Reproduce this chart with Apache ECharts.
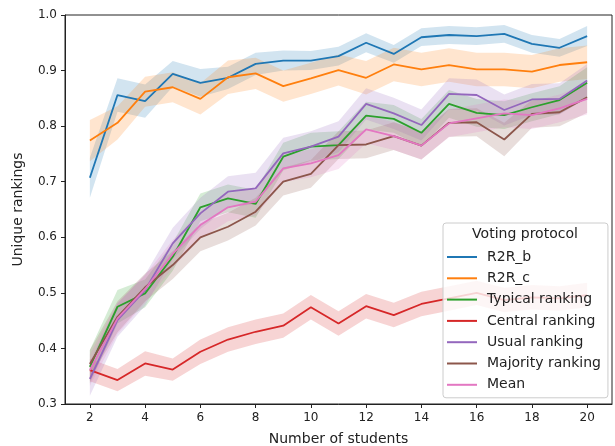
<!DOCTYPE html>
<html lang="en">
<head>
    <meta charset="UTF-8">
    <title>Unique rankings</title>
    <script src="https://cdn.jsdelivr.net/npm/echarts@6/dist/echarts.min.js"></script>
</head>
<body style="margin:0">
    <div id="main" style="width: 615px; height: 446px;"></div>
    <script>
        // number of students (x)
        const students = [2, 3, 4, 5, 6, 7, 8, 9, 10, 11, 12, 13, 14, 15, 16, 17, 18, 19, 20];
        const xTicks = [2, 4, 6, 8, 10, 12, 14, 16, 18, 20];

        const protocols = ['R2R_b', 'R2R_c', 'Typical ranking', 'Central ranking', 'Usual ranking', 'Majority ranking', 'Mean'];
        const colors = ['#1f77b4', '#ff7f0e', '#2ca02c', '#d62728', '#9467bd', '#8c564b', '#e377c2'];

        // mean values
        const r2rB     = [0.707, 0.856, 0.845, 0.894, 0.878, 0.887, 0.912, 0.918, 0.918, 0.926, 0.950, 0.930, 0.960, 0.964, 0.962, 0.966, 0.948, 0.941, 0.962];
        const r2rC     = [0.774, 0.806, 0.862, 0.870, 0.849, 0.888, 0.895, 0.872, 0.886, 0.901, 0.887, 0.911, 0.902, 0.910, 0.902, 0.902, 0.898, 0.910, 0.915];
        const typical  = [0.367, 0.475, 0.499, 0.565, 0.654, 0.670, 0.660, 0.745, 0.763, 0.766, 0.819, 0.813, 0.788, 0.840, 0.824, 0.820, 0.834, 0.847, 0.878];
        const central  = [0.361, 0.343, 0.373, 0.362, 0.394, 0.416, 0.430, 0.441, 0.474, 0.445, 0.476, 0.460, 0.480, 0.490, 0.500, 0.487, 0.492, 0.490, 0.496];
        const usual    = [0.345, 0.451, 0.505, 0.589, 0.643, 0.682, 0.688, 0.751, 0.763, 0.781, 0.840, 0.823, 0.802, 0.858, 0.856, 0.829, 0.848, 0.849, 0.882];
        const majority = [0.372, 0.457, 0.510, 0.550, 0.600, 0.619, 0.646, 0.700, 0.714, 0.766, 0.767, 0.782, 0.765, 0.806, 0.807, 0.776, 0.822, 0.825, 0.852];
        const meanR    = [0.361, 0.454, 0.507, 0.570, 0.622, 0.654, 0.664, 0.724, 0.733, 0.748, 0.794, 0.782, 0.765, 0.805, 0.814, 0.823, 0.820, 0.832, 0.849];

        // half width of the confidence bands
        const r2rBErr     = [0.036, 0.030, 0.030, 0.023, 0.025, 0.020, 0.020, 0.018, 0.017, 0.017, 0.017, 0.016, 0.016, 0.016, 0.016, 0.016, 0.016, 0.016, 0.018];
        const r2rCErr     = [0.037, 0.030, 0.027, 0.027, 0.028, 0.030, 0.028, 0.028, 0.028, 0.028, 0.030, 0.030, 0.030, 0.030, 0.030, 0.030, 0.030, 0.030, 0.030];
        const typicalErr  = [0.030, 0.030, 0.025, 0.025, 0.025, 0.025, 0.025, 0.025, 0.025, 0.025, 0.025, 0.025, 0.025, 0.025, 0.025, 0.025, 0.025, 0.025, 0.028];
        const centralErr  = [0.020, 0.020, 0.022, 0.020, 0.022, 0.022, 0.022, 0.022, 0.022, 0.022, 0.022, 0.022, 0.022, 0.022, 0.022, 0.022, 0.022, 0.022, 0.022];
        const usualErr    = [0.030, 0.030, 0.028, 0.028, 0.028, 0.028, 0.028, 0.028, 0.028, 0.028, 0.028, 0.028, 0.028, 0.028, 0.028, 0.028, 0.028, 0.028, 0.030];
        const majorityErr = [0.025, 0.028, 0.025, 0.025, 0.025, 0.025, 0.025, 0.025, 0.025, 0.025, 0.025, 0.025, 0.025, 0.025, 0.025, 0.030, 0.025, 0.025, 0.028];
        const meanErr     = [0.028, 0.028, 0.025, 0.025, 0.025, 0.025, 0.025, 0.025, 0.025, 0.025, 0.025, 0.025, 0.025, 0.025, 0.025, 0.025, 0.025, 0.025, 0.028];

        const means = [r2rB, r2rC, typical, central, usual, majority, meanR];
        const errs = [r2rBErr, r2rCErr, typicalErr, centralErr, usualErr, majorityErr, meanErr];

        const font = 'DejaVu Sans';
        const ink = '#222';

        var myChart = echarts.init(document.getElementById('main'));

        const series = [];
        protocols.forEach((name, k) => {
            // band as one polygon, drawn at the first item
            series.push({
                type: 'custom',
                name: name + ' band',
                z: 1,
                silent: true,
                data: students.map((x, i) => [x, means[k][i] - errs[k][i], means[k][i] + errs[k][i]]),
                encode: { x: 0, y: [1, 2] },
                renderItem: function (params, api) {
                    if (params.dataIndex !== 0) return null;
                    const n = students.length;
                    const pts = [];
                    for (let i = 0; i < n; i++) pts.push(api.coord([api.value(0, i), api.value(2, i)]));
                    for (let i = n - 1; i >= 0; i--) pts.push(api.coord([api.value(0, i), api.value(1, i)]));
                    return {
                        type: 'polygon',
                        shape: { points: pts },
                        style: { fill: colors[k], opacity: 0.2 }
                    };
                }
            });
        });
        protocols.forEach((name, k) => {
            series.push({
                type: 'line',
                name: name,
                z: 2,
                data: students.map((x, i) => [x, means[k][i]]),
                showSymbol: false,
                symbol: 'none',
                color: colors[k],
                lineStyle: { width: 1.8, color: colors[k] }
            });
        });

        let option = {
            animation: false,
            textStyle: { fontFamily: font },
            grid: {
                left: 65, right: 3, top: 15, bottom: 42,
                show: true, borderColor: ink, borderWidth: 1,
                outerBoundsMode: 'none'
            },
            xAxis: {
                type: 'value',
                min: 1.1,
                max: 20.9,
                name: 'Number of students',
                nameLocation: 'middle',
                nameGap: 28,
                nameTextStyle: { fontSize: 14, color: ink, fontFamily: font },
                axisLine: { show: true, lineStyle: { color: ink } },
                axisTick: { show: true, length: 4, customValues: xTicks, lineStyle: { color: ink } },
                axisLabel: { customValues: xTicks, fontSize: 12, color: ink, margin: 8, fontFamily: font },
                splitLine: { show: false }
            },
            yAxis: {
                type: 'value',
                min: 0.3,
                max: 1.0,
                interval: 0.1,
                name: 'Unique rankings',
                nameLocation: 'middle',
                nameGap: 40,
                nameTextStyle: { fontSize: 14, color: ink, fontFamily: font },
                axisLine: { show: true, lineStyle: { color: ink } },
                axisTick: { show: true, length: 4, lineStyle: { color: ink } },
                axisLabel: {
                    fontSize: 12, color: ink, margin: 8, fontFamily: font,
                    formatter: v => v.toFixed(1)
                },
                splitLine: { show: false }
            },
            legend: {
                data: protocols,
                orient: 'vertical',
                left: 443,
                top: 223,
                padding: [26, 7, 5, 4],
                itemWidth: 30,
                itemHeight: 2,
                itemGap: 5.3,
                icon: 'rect',
                backgroundColor: 'rgba(255,255,255,0.8)',
                borderColor: '#cccccc',
                borderWidth: 1,
                borderRadius: 3,
                textStyle: { fontSize: 14, color: ink, fontFamily: font, lineHeight: 16, padding: [0, 0, 0, 5] }
            },
            graphic: [{
                type: 'text',
                x: 525,
                y: 234,
                z: 100,
                style: {
                    text: 'Voting protocol',
                    font: '14px "DejaVu Sans"',
                    fill: ink,
                    textAlign: 'center',
                    textVerticalAlign: 'middle'
                }
            }],
            series: series
        };

        myChart.setOption(option);
    </script>
</body>
</html>
